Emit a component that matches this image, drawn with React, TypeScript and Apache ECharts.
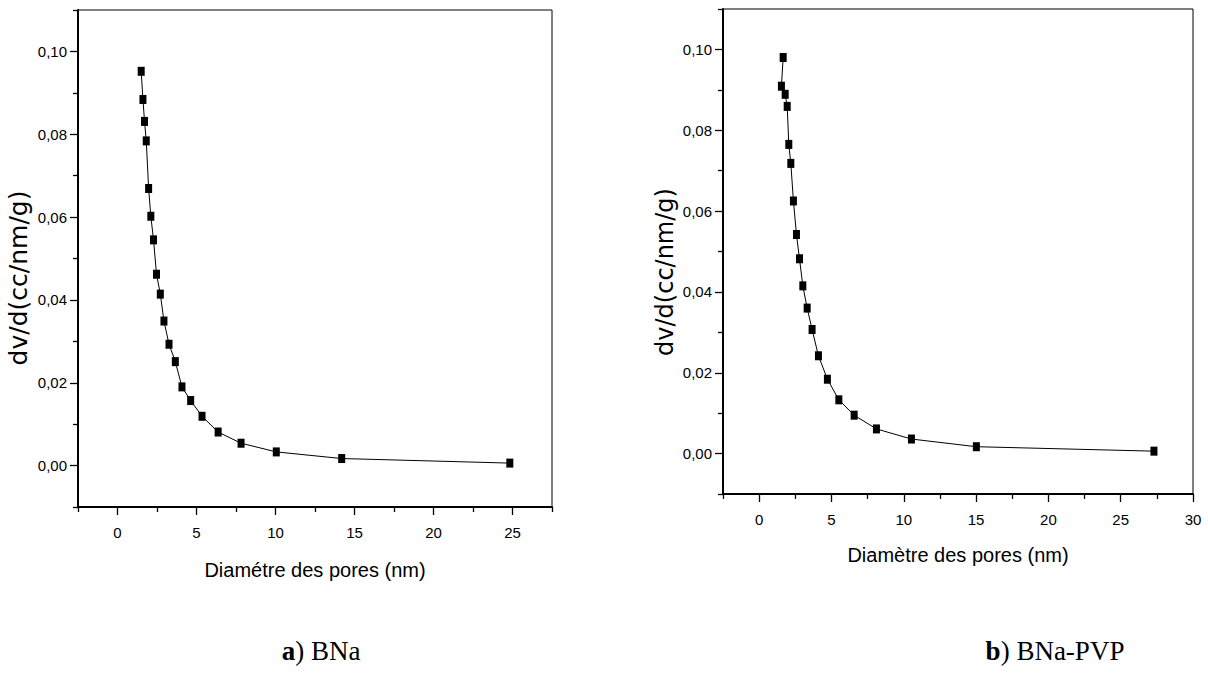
import React, { useEffect, useRef } from "react";
import * as echarts from "echarts";

// BNa
const bnaDiameter = [1.5, 1.61, 1.71, 1.82, 1.97, 2.11, 2.28, 2.47, 2.71, 2.94, 3.26, 3.66, 4.08, 4.63, 5.35, 6.37, 7.82, 10.05, 14.19, 24.83];
const bnaDvd = [0.0952, 0.0884, 0.0831, 0.0784, 0.0669, 0.0602, 0.0545, 0.0462, 0.0414, 0.0349, 0.0293, 0.0251, 0.019, 0.0157, 0.0119, 0.0081, 0.0054, 0.0033, 0.0017, 0.0006];
// BNa-PVP
const pvpDiameter = [1.66, 1.54, 1.8, 1.94, 2.05, 2.19, 2.37, 2.58, 2.79, 3.02, 3.32, 3.66, 4.1, 4.72, 5.51, 6.57, 8.11, 10.53, 15.02, 27.3];
const pvpDvd = [0.098, 0.0909, 0.0889, 0.0859, 0.0765, 0.0718, 0.0625, 0.0542, 0.0482, 0.0415, 0.036, 0.0307, 0.0242, 0.0184, 0.0133, 0.0095, 0.0061, 0.0036, 0.0017, 0.0006];

const yMajorTicks = [0, 0.02, 0.04, 0.06, 0.08, 0.1];
const yMinorTicks = [-0.01, 0.01, 0.03, 0.05, 0.07, 0.09, 0.11];
const xMajorTicksA = [0, 5, 10, 15, 20, 25];
const xMinorTicksA = [-2.5, 2.5, 7.5, 12.5, 17.5, 22.5, 27.5];
const xMajorTicksB = [0, 5, 10, 15, 20, 25, 30];
const xMinorTicksB = [-2.5, 2.5, 7.5, 12.5, 17.5, 22.5, 27.5];

const xTitleA = "Diamétre des pores (nm)";
const xTitleB = "Diamètre des pores (nm)";
const yTitle = "dv/d(cc/nm/g)";
const captionA = "{b|a}) BNa";
const captionB = "{b|b}) BNa-PVP";

const SANS = "'Liberation Sans', Arial, sans-serif";
const SERIF = "'Liberation Serif', 'Times New Roman', serif";

function pairs(xs: number[], ys: number[]) {
  return xs.map((x, i) => [x, ys[i]]);
}

function xAxes(gridIndex: number, max: number, major: number[], minor: number[], name: string, nameGap: number) {
  return [
    {
      type: "value",
      gridIndex,
      position: "bottom",
      min: -2.5,
      max,
      name,
      nameLocation: "middle",
      nameGap,
      nameTextStyle: { fontFamily: SANS, fontSize: 20, color: "#000" },
      axisLine: { show: true, onZero: false, lineStyle: { color: "#000", width: 2 } },
      axisTick: { show: true, inside: false, length: 8, customValues: major, lineStyle: { color: "#000", width: 1.3 } },
      axisLabel: { show: true, customValues: major, margin: 18, fontFamily: SANS, fontSize: 15, color: "#000" },
      splitLine: { show: false },
      z: 5,
    },
    {
      type: "value",
      gridIndex,
      position: "bottom",
      min: -2.5,
      max,
      axisLine: { show: false, onZero: false },
      axisTick: { show: true, inside: false, length: 5, customValues: minor, lineStyle: { color: "#000", width: 1.3 } },
      axisLabel: { show: false },
      splitLine: { show: false },
      z: 5,
    },
  ];
}

function yAxes(gridIndex: number) {
  return [
    {
      type: "value",
      gridIndex,
      position: "left",
      min: -0.01,
      max: 0.11,
      axisLine: { show: true, onZero: false, lineStyle: { color: "#000", width: 2 } },
      axisTick: { show: true, inside: false, length: 8, customValues: yMajorTicks, lineStyle: { color: "#000", width: 1.3 } },
      axisLabel: {
        show: true,
        customValues: yMajorTicks,
        margin: 11,
        fontFamily: SANS,
        fontSize: 15,
        color: "#000",
        formatter: (v: number) => v.toFixed(2).replace(".", ","),
      },
      splitLine: { show: false },
      z: 5,
    },
    {
      type: "value",
      gridIndex,
      position: "left",
      min: -0.01,
      max: 0.11,
      axisLine: { show: false, onZero: false },
      axisTick: { show: true, inside: false, length: 5, customValues: yMinorTicks, lineStyle: { color: "#000", width: 1.3 } },
      axisLabel: { show: false },
      splitLine: { show: false },
      z: 5,
    },
  ];
}

function lineSeries(xAxisIndex: number, yAxisIndex: number, data: number[][]) {
  return {
    type: "line",
    xAxisIndex,
    yAxisIndex,
    data,
    symbol: "rect",
    symbolSize: [7, 9],
    showSymbol: true,
    lineStyle: { color: "#000", width: 1 },
    itemStyle: { color: "#000" },
    z: 3,
  };
}

function yTitleText(x: number, y: number, size: number) {
  return {
    type: "text",
    x,
    y,
    rotation: Math.PI / 2,
    style: { text: yTitle, fontFamily: "'DejaVu Sans', sans-serif", fontSize: size, fill: "#000", align: "center", verticalAlign: "middle" },
  };
}

function caption(x: number, y: number, text: string) {
  return {
    type: "text",
    x,
    y,
    style: {
      text,
      fontFamily: SERIF,
      fontSize: 27,
      fill: "#000",
      align: "center",
      verticalAlign: "middle",
      rich: { b: { fontWeight: "bold", fontFamily: SERIF, fontSize: 27, fill: "#000" } },
    },
  };
}

export default function App() {
  const ref = useRef<HTMLDivElement>(null);
  useEffect(() => {
    if (!ref.current) return;
    const chart = echarts.init(ref.current, null, { renderer: "svg" });
    chart.setOption({
      animation: false,
      backgroundColor: "#fff",
      grid: [
        { left: 78, top: 10, width: 474, height: 497, show: true, borderColor: "#000", borderWidth: 1, backgroundColor: "transparent" },
        { left: 723, top: 9, width: 470, height: 485, show: true, borderColor: "#000", borderWidth: 1, backgroundColor: "transparent" },
      ],
      xAxis: [
        ...xAxes(0, 27.5, xMajorTicksA, xMinorTicksA, xTitleA, 53),
        ...xAxes(1, 30, xMajorTicksB, xMinorTicksB, xTitleB, 51),
      ],
      yAxis: [...yAxes(0), ...yAxes(1)],
      series: [
        lineSeries(0, 0, pairs(bnaDiameter, bnaDvd)),
        lineSeries(2, 2, pairs(pvpDiameter, pvpDvd)),
      ],
      graphic: [
        yTitleText(18, 278, 25),
        yTitleText(665, 272, 24),
        caption(321, 651, captionA),
        caption(1055, 651, captionB),
      ],
    });
    return () => chart.dispose();
  }, []);
  return <div ref={ref} style={{ position: "absolute", left: 0, top: 0, width: 1208, height: 688 }} />;
}
